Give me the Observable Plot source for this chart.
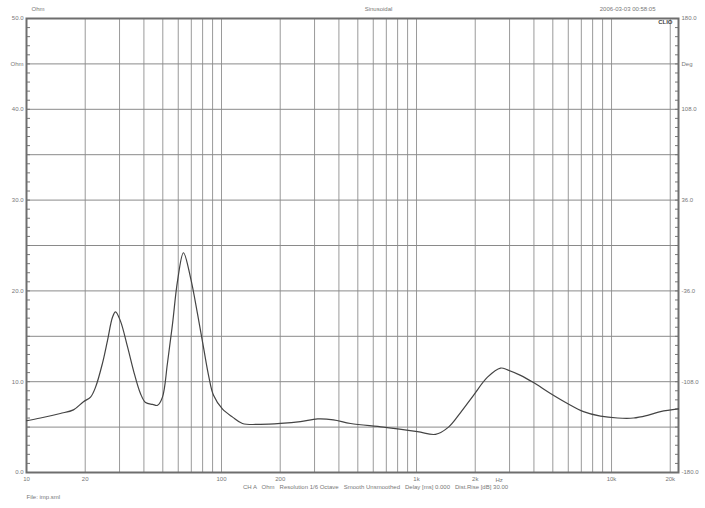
<!DOCTYPE html>
<html>
<head>
<meta charset="utf-8">
<script src="https://cdn.jsdelivr.net/npm/d3@7"></script>
<script src="https://cdn.jsdelivr.net/npm/@observablehq/plot@0.6"></script>
<style>
  html, body { margin: 0; padding: 0; background: #fff; }
  #chart svg { display: block; }
</style>
</head>
<body>
<div id="chart"></div>
<script>
// Impedance curve (Hz → Ohm)
const freq = [10, 11.8, 14.9, 17.4, 19.6, 21.3, 22.6, 24.5, 26.0, 27.6, 28.6, 30.3, 33.0, 35.4, 38.4, 40.8, 44.3, 47.0, 49.8, 52.8, 56.1, 59.5, 63.8, 69.3, 75.3, 80.8, 86, 91, 101, 114, 128, 158, 201, 254, 311, 375, 459, 677, 1012, 1251, 1459, 1682, 1960, 2312, 2697, 2930, 3415, 3981, 4864, 5943, 7181, 8783, 10740, 12970, 15310, 17830, 22050];
const ohm  = [5.7, 6.0, 6.5, 6.9, 7.8, 8.3, 9.4, 12.0, 14.5, 17.1, 17.7, 16.7, 13.8, 11.2, 8.7, 7.7, 7.5, 7.4, 8.3, 12.0, 16.4, 21.1, 24.2, 21.5, 17.5, 13.8, 10.6, 8.5, 7.0, 6.1, 5.4, 5.3, 5.4, 5.6, 5.9, 5.8, 5.4, 5.0, 4.5, 4.2, 5.0, 6.6, 8.5, 10.5, 11.5, 11.3, 10.7, 9.9, 8.7, 7.6, 6.7, 6.2, 6.0, 6.0, 6.3, 6.7, 7.0];

// Axes / grid definitions
const xDomain = [10, 22050];
const yDomain = [0, 50];
const xTickValues = [10, 20, 50, 100, 200, 500, 1000, 2000, 5000, 10000, 20000];
const xTickLabels = ["10", "20", "50", "100", "200", "500", "1k", "2k", "5k", "10k", "20k"];
const xGrid = [20, 30, 40, 50, 60, 70, 80, 90, 100, 200, 300, 400, 500, 600, 700, 800, 900, 1000, 2000, 3000, 4000, 5000, 6000, 7000, 8000, 9000, 10000, 20000];
const yGrid = [5, 10, 15, 20, 25, 30, 35, 40, 45];
const yLabelTicks = [0, 10, 20, 30, 40];
const yMinorTicks = d3.range(0, 51, 1);
const degLabels = ["-180.0", "-108.0", "-36.0", "36.0", "108.0"]; // right axis at y = 0,10,20,30,40
const unitLabels = [{y: 45, left: "Ohm", right: "Deg"}, {y: 50, left: "50.0", right: "180.0"}];
const hzLabel = {x: 2650, text: "Hz"};

const titleLeft = "Ohm";
const titleCenter = "Sinusoidal";
const titleRight = "2006-03-03 00:58:05";
const brand = "CLIO";
const caption = "CH A   Ohm   Resolution 1/6 Octave   Smooth Unsmoothed   Delay [ms] 0.000   Dist.Rise [dB] 30.00";
const fileLabel = "File: imp.sml";

const data = freq.map((f, i) => ({f, z: ohm[i]}));
const font = "Liberation Sans, Arial, sans-serif";
const txt = "#777";

const plot = Plot.plot({
  width: 705,
  height: 508,
  marginLeft: 26,
  marginRight: 27,
  marginTop: 18,
  marginBottom: 36,
  style: {fontFamily: font, fontSize: "6px", background: "#fff", color: txt},
  x: {type: "log", domain: xDomain, axis: null},
  y: {domain: yDomain, axis: null},
  marks: [
    Plot.ruleX(xGrid, {stroke: "#9a9a9a", strokeWidth: 1}),
    Plot.ruleY(yGrid, {stroke: "#8a8a8a", strokeWidth: 1}),
    // minor inward ticks on both sides
    Plot.axisY(yMinorTicks, {anchor: "left", tickSize: -4, text: null, stroke: "#777", label: null}),
    Plot.axisY(yMinorTicks, {anchor: "right", tickSize: -4, text: null, stroke: "#777", label: null}),
    // left labels
    Plot.axisY(yLabelTicks, {anchor: "left", tickSize: 0, tickPadding: 3, tickFormat: d => d.toFixed(1), label: null, fill: txt, fontSize: 6}),
    Plot.axisY(yLabelTicks, {anchor: "right", tickSize: 0, tickPadding: 3, tickFormat: d => degLabels[yLabelTicks.indexOf(d)], label: null, fill: txt, fontSize: 6}),
    Plot.text(unitLabels, {y: "y", text: "left", frameAnchor: "left", textAnchor: "end", dx: -3, fill: txt, fontSize: 6}),
    Plot.text(unitLabels, {y: "y", text: "right", frameAnchor: "right", textAnchor: "start", dx: 3, fill: txt, fontSize: 6}),
    // bottom labels
    Plot.axisX(xTickValues, {anchor: "bottom", tickSize: 0, tickPadding: 4, tickFormat: d => xTickLabels[xTickValues.indexOf(d)], label: null, fill: txt, fontSize: 6}),
    Plot.text([hzLabel], {x: "x", text: "text", frameAnchor: "bottom", dy: 9, fill: txt, fontSize: 6}),
    Plot.frame({stroke: "#6e6e6e", strokeWidth: 2}),
    // curve
    Plot.line(data, {x: "f", y: "z", curve: "catmull-rom", stroke: "#444", strokeWidth: 1.2}),
    // header / footer texts
    Plot.text([titleLeft], {frameAnchor: "top-left", dx: 5, dy: -9, textAnchor: "start", lineAnchor: "middle", fill: txt, fontSize: 6}),
    Plot.text([titleCenter], {frameAnchor: "top", dx: 26, dy: -9, lineAnchor: "middle", fill: txt, fontSize: 6}),
    Plot.text([titleRight], {frameAnchor: "top-right", dx: -23, dy: -9, textAnchor: "end", lineAnchor: "middle", fill: txt, fontSize: 6}),
    Plot.text([brand], {frameAnchor: "top-right", dx: -6, dy: 4, textAnchor: "end", lineAnchor: "middle", fill: "#444", fontSize: 6, fontWeight: "bold"}),
    Plot.text([caption], {frameAnchor: "bottom", dx: 23, dy: 15, lineAnchor: "middle", fill: txt, fontSize: 6}),
    Plot.text([fileLabel], {frameAnchor: "bottom-left", dx: 0, dy: 25, textAnchor: "start", lineAnchor: "middle", fill: txt, fontSize: 6})
  ]
});
document.getElementById("chart").appendChild(plot);
</script>
</body>
</html>
